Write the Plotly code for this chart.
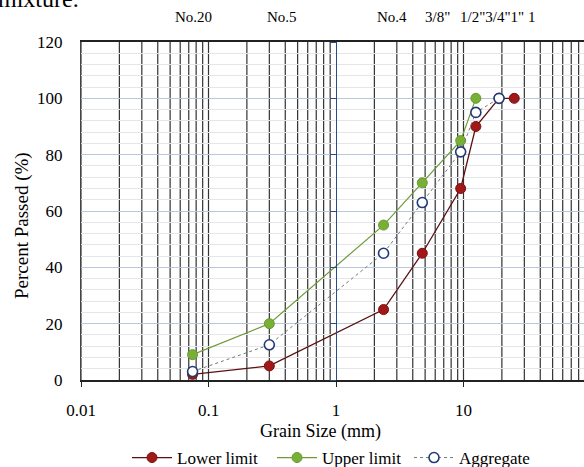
import plotly.graph_objects as go

# Data
sieve_mm = [0.075, 0.3, 2.36, 4.75, 9.5, 12.5, 19, 25]
lower_limit = [2, 5, 25, 45, 68, 90, 100, 100]
upper_sizes = [0.075, 0.3, 2.36, 4.75, 9.5, 12.5]
upper_limit = [9, 20, 55, 70, 85, 100]
agg_sizes = [0.075, 0.3, 2.36, 4.75, 9.5, 12.5, 19]
aggregate = [3, 12.5, 45, 63, 81, 95, 100]

top_labels = ["No.20", "No.5", "No.4", "3/8\"", "1/2\"3/4\"1\" 1"]
top_label_px = [173, 265, 375, 423, 458]

x_major = [0.01, 0.1, 1, 10]
x_major_text = ["0.01", "0.1", "1", "10"]
x_minor = [m * d for d in [0.01, 0.1, 1, 10] for m in range(2, 10)]

W, H = 584, 467
ML, MR, MT, MB = 81, 0, 42, 87
FONT = "Liberation Serif, Times New Roman, serif"

fig = go.Figure()
fig.add_trace(go.Scatter(
    x=sieve_mm, y=lower_limit, name="Lower limit", mode="lines+markers",
    line=dict(color="#5a1010", width=1.3), legendwidth=90,
    marker=dict(color="#a01818", size=10, line=dict(color="#7a1010", width=1)),
))
fig.add_trace(go.Scatter(
    x=upper_sizes, y=upper_limit, name="Upper limit", mode="lines+markers",
    line=dict(color="#6f9a3a", width=1.2), legendwidth=82,
    marker=dict(color="#78b035", size=10, line=dict(color="#6a9a30", width=1)),
))
fig.add_trace(go.Scatter(
    x=agg_sizes, y=aggregate, name="Aggregate", mode="lines+markers",
    line=dict(color="#777777", width=1, dash="dot"), legendwidth=82,
    marker=dict(color="white", size=10, symbol="circle",
                line=dict(color="#1f3b78", width=1.6)),
))

plot_w = W - ML - MR
plot_h = H - MT - MB
x_hi = -2 + plot_w / 127.5
pos1 = (0 - (-2)) / (x_hi + 2)

fig.update_layout(
    width=W, height=H,
    margin=dict(l=ML, r=MR, t=MT, b=MB),
    paper_bgcolor="white", plot_bgcolor="white",
    font=dict(family=FONT, size=15, color="black"),
    showlegend=True,
    legend=dict(orientation="h", xref="container", x=127 / W, xanchor="left",
                yref="container", y=1 - 458 / H, yanchor="middle",
                font=dict(family=FONT, size=17), itemwidth=40, tracegroupgap=0),
    xaxis=dict(
        type="log", range=[-2, x_hi], automargin=False,
        tickmode="array", tickvals=x_major, ticktext=x_major_text,
        ticks="outside", ticklen=5, tickcolor="#222", tickwidth=1.2,
        ticklabelstandoff=9,
        showgrid=False,
        showline=True, linecolor="#222222", linewidth=1.5, mirror=True,
        zeroline=False,
        tickfont=dict(family=FONT, size=17),
    ),
    yaxis=dict(
        range=[0, 120], tickmode="linear", tick0=0, dtick=20, automargin=False,
        showgrid=True, gridcolor="#b9c7da", gridwidth=1,
        minor=dict(dtick=4, showgrid=True, gridcolor="#e4e6ea", gridwidth=1),
        showline=True, linecolor="#444444", linewidth=1.2,
        zeroline=False, ticks="", ticklabelstandoff=14,
        tickfont=dict(family=FONT, size=17),
    ),
    yaxis2=dict(
        range=[0, 120], overlaying="y", anchor="free", position=pos1, side="left",
        tickmode="linear", tick0=0, dtick=20, ticks="outside", ticklen=6,
        tickcolor="#2a4a8a", showticklabels=False, showgrid=False, automargin=False,
        showline=True, linecolor="#2a4a8a", linewidth=1.3, zeroline=False,
    ),
)

# vertical log gridlines drawn above the horizontal grid
for xv in x_major + x_minor:
    if xv == 1:
        continue
    fig.add_shape(type="line", xref="x", yref="paper", x0=xv, x1=xv, y0=0, y1=1,
                  line=dict(color="#333333", width=1.2), layer="between")

# invisible trace to activate yaxis2
fig.add_trace(go.Scatter(x=[1], y=[0], yaxis="y2", mode="markers",
                         marker=dict(opacity=0), showlegend=False, hoverinfo="skip"))

# axis titles (placed as in the reference)
fig.add_annotation(text="Grain Size (mm)", xref="paper", yref="paper",
                   x=(320 - ML) / plot_w, y=-(432 - (H - MB)) / plot_h,
                   xanchor="center", yanchor="middle", showarrow=False,
                   font=dict(family=FONT, size=18))
fig.add_annotation(text="Percent Passed (%)", xref="paper", yref="paper",
                   x=(22 - ML) / plot_w, y=(H - MB - 226) / plot_h, textangle=-90,
                   xanchor="center", yanchor="middle", showarrow=False,
                   font=dict(family=FONT, size=19))

for txt, px in zip(top_labels, top_label_px):
    fig.add_annotation(text=txt, xref="paper", yref="paper",
                       x=(px - ML) / plot_w, y=1 + (MT - 17) / plot_h,
                       xanchor="left", yanchor="middle", showarrow=False,
                       font=dict(family=FONT, size=15))

fig.add_annotation(text="mixture.", xref="paper", yref="paper",
                   x=(-4 - ML) / plot_w, y=1 + (MT + 1) / plot_h,
                   xanchor="left", yanchor="middle", showarrow=False,
                   font=dict(family=FONT, size=24))

fig.write_html("out.html", config={"displayModeBar": False},
               post_script="document.body.style.margin='0px';document.body.style.overflow='hidden';")
